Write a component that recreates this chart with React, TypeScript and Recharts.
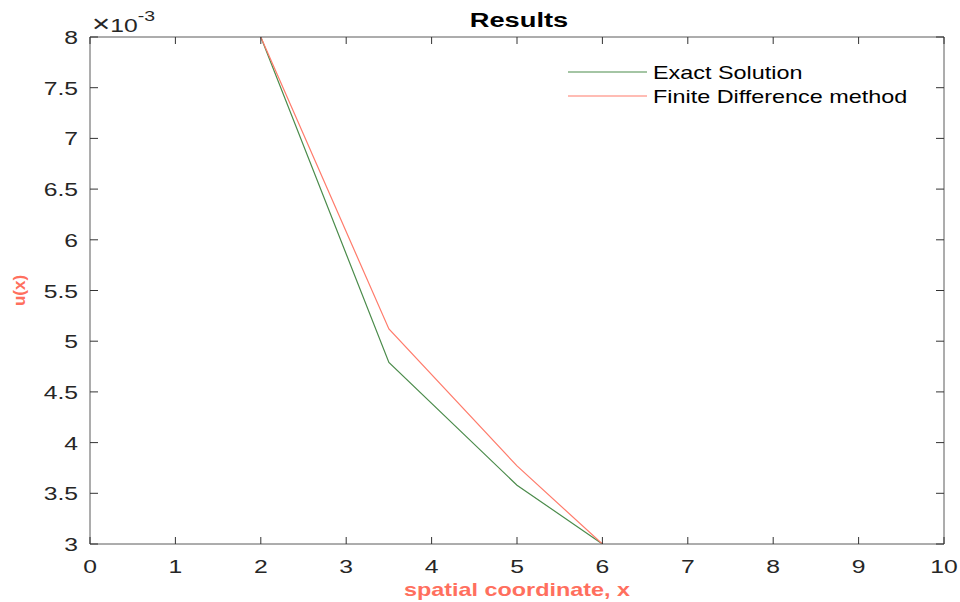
import React from 'react';
import { LineChart, Line, XAxis, YAxis, Legend } from 'recharts';

// Values in units of 1e-3
const xValues = [2, 3.5, 5, 6];
const exactSolution = [8, 4.79, 3.58, 3.0];
const finiteDifference = [8, 5.12, 3.77, 3.0];
const xTicks = [0, 1, 2, 3, 4, 5, 6, 7, 8, 9, 10];
const yTicks = [3, 3.5, 4, 4.5, 5, 5.5, 6, 6.5, 7, 7.5, 8];
const seriesNames = ['Exact Solution', 'Finite Difference method'];
const titleText = 'Results';
const xLabelText = 'spatial coordinate, x';
const yLabelText = 'u(x)';

const data = xValues.map((x, i) => ({ x, exact: exactSolution[i], fd: finiteDifference[i] }));

const FONT = '"Liberation Sans", Arial, Helvetica, sans-serif';
const TEXT = '#262626';
const AXIS = '#5a5a5a';
const TICK = '#333333';
const GREEN = '#4b8b4b';
const RED = '#ff7b6b';
const LABEL_RED = '#ff6f5e';
const SX = 1.3;

const BottomTick = (props: any) => {
  const { x, y, payload } = props;
  return (
    <g>
      <line x1={x} y1={y} x2={x} y2={y - 7} stroke={TICK} strokeWidth={1} />
      <text transform={`translate(${x},${y + 29}) scale(${SX},1)`} textAnchor="middle" fontSize={19} fill={TEXT} fontFamily={FONT}>
        {payload.value}
      </text>
    </g>
  );
};

const TopTick = (props: any) => {
  const { x, y } = props;
  return <line x1={x} y1={y} x2={x} y2={y + 7} stroke={TICK} strokeWidth={1} />;
};

const LeftTick = (props: any) => {
  const { x, y, payload } = props;
  return (
    <g>
      <line x1={x} y1={y} x2={x + 8} y2={y} stroke={TICK} strokeWidth={1} />
      <text transform={`translate(${x - 12},${y + 7}) scale(${SX},1)`} textAnchor="end" fontSize={19} fill={TEXT} fontFamily={FONT}>
        {payload.value}
      </text>
    </g>
  );
};

const RightTick = (props: any) => {
  const { x, y } = props;
  return <line x1={x} y1={y} x2={x - 8} y2={y} stroke={TICK} strokeWidth={1} />;
};

const TopLabel = (props: any) => {
  const vb = props.viewBox || { x: 90, y: 37, width: 854, height: 0 };
  const cx = vb.x + vb.width / 2;
  const ay = vb.y + (vb.height || 0);
  return (
    <g>
      <text transform={`translate(${cx + 2},${ay - 10}) scale(${SX},1)`} textAnchor="middle" fontSize={21} fontWeight="bold" fill="#000" fontFamily={FONT}>
        {titleText}
      </text>
      <text transform={`translate(${vb.x + 2},${ay - 5}) scale(${SX},1)`} fontSize={19} fill={TEXT} fontFamily={FONT}>
        <tspan fontSize={24}>×</tspan>10<tspan dy={-11} fontSize={15}>-3</tspan>
      </text>
    </g>
  );
};

const BottomLabel = (props: any) => {
  const vb = props.viewBox || { x: 90, y: 544, width: 854 };
  const cx = vb.x + vb.width / 2;
  return (
    <text transform={`translate(${cx},${vb.y + 52}) scale(${SX},1)`} textAnchor="middle" fontSize={18} fontWeight="bold" fill={LABEL_RED} fontFamily={FONT}>
      {xLabelText}
    </text>
  );
};

const LeftLabel = (props: any) => {
  const vb = props.viewBox || { x: 0, y: 37, height: 507 };
  const cy = vb.y + vb.height / 2;
  return (
    <text transform={`translate(24.5,${cy}) rotate(-90)`} textAnchor="middle" fontSize={17} fontWeight="bold" fill={LABEL_RED} fontFamily={FONT}>
      {yLabelText}
    </text>
  );
};

const LegendContent = (props: any) => {
  const payload = props.payload || [];
  return (
    <svg width={380} height={60} style={{ display: 'block' }}>
      {payload.map((entry: any, i: number) => {
        const ly = 17 + i * 24;
        return (
          <g key={i}>
            <line x1={8} y1={ly} x2={87} y2={ly} stroke={entry.color} strokeWidth={1.2} />
            <text transform={`translate(93,${ly + 7}) scale(${SX},1)`} fontSize={18} fill="#000" fontFamily={FONT}>
              {entry.value}
            </text>
          </g>
        );
      })}
    </svg>
  );
};

export default function App() {
  return (
    <div style={{ position: 'absolute', left: 0, top: 0, width: 960, height: 602, background: '#fff' }}>
      <LineChart width={960} height={602} data={data} margin={{ top: 36, right: 15, bottom: 0, left: 0 }}>
        <XAxis
          dataKey="x"
          type="number"
          domain={[0, 10]}
          ticks={xTicks}
          interval={0}
          height={58}
          tickSize={0}
          tickMargin={0}
          tickLine={false}
          axisLine={{ stroke: AXIS }}
          tick={BottomTick}
          label={<BottomLabel />}
          allowDataOverflow
        />
        <XAxis
          xAxisId="top"
          dataKey="x"
          type="number"
          orientation="top"
          domain={[0, 10]}
          ticks={xTicks}
          interval={0}
          height={1}
          tickSize={0}
          tickMargin={0}
          tickLine={false}
          axisLine={{ stroke: AXIS }}
          tick={TopTick}
          label={<TopLabel />}
          allowDataOverflow
        />
        <YAxis
          type="number"
          domain={[3, 8]}
          ticks={yTicks}
          interval={0}
          width={90}
          tickSize={0}
          tickMargin={0}
          tickLine={false}
          axisLine={{ stroke: AXIS }}
          tick={LeftTick}
          label={<LeftLabel />}
          allowDataOverflow
        />
        <YAxis
          yAxisId="right"
          type="number"
          orientation="right"
          domain={[3, 8]}
          ticks={yTicks}
          interval={0}
          width={1}
          tickSize={0}
          tickMargin={0}
          tickLine={false}
          axisLine={{ stroke: AXIS }}
          tick={RightTick}
          allowDataOverflow
        />
        <Legend
          layout="vertical"
          align="center"
          verticalAlign="middle"
          wrapperStyle={{ left: 560, top: 55, width: 380, height: 60 }}
          content={<LegendContent />}
        />
        <Line type="linear" dataKey="exact" name={seriesNames[0]} stroke={GREEN} strokeWidth={1.2} dot={false} isAnimationActive={false} />
        <Line type="linear" xAxisId="top" yAxisId="right" dataKey="fd" name={seriesNames[1]} stroke={RED} strokeWidth={1.2} dot={false} isAnimationActive={false} />
      </LineChart>
    </div>
  );
}
